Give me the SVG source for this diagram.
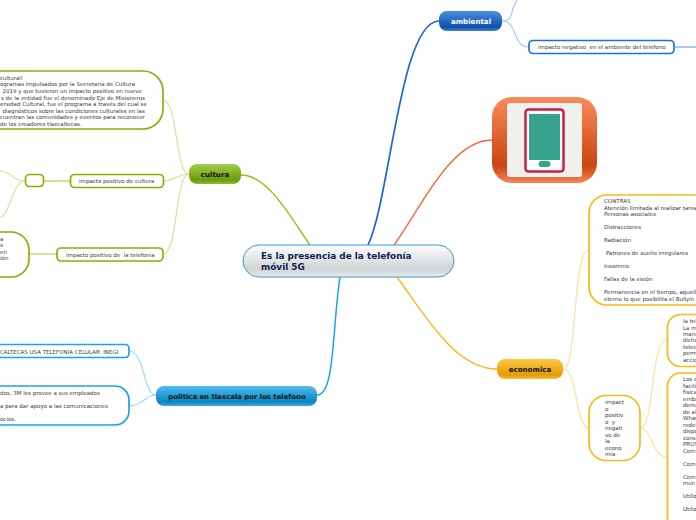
<svg xmlns="http://www.w3.org/2000/svg" width="696" height="520" viewBox="0 0 696 520">
<style>
text{font-family:"DejaVu Sans",sans-serif;font-size:5.5px;fill:#3a3a3a}
.b{fill:#fff;stroke-width:1.7}
.g{stroke:#7fb500}.bl{stroke:#1f6fd8}.c{stroke:#17a5ea}.y{stroke:#fdb813}
.t{font-size:7.1px;font-weight:bold;fill:#111;text-anchor:middle}
.cn{fill:none}
.lg{stroke:#cfe59a;stroke-width:1.2}.lb{stroke:#a9c8f2;stroke-width:1.2}.lc{stroke:#9adcf8;stroke-width:1.2}.ly{stroke:#fde1a0;stroke-width:1.2}
.w{stroke-width:2}
</style>
<defs>
<linearGradient id="gc" x1="0" y1="0" x2="0" y2="1"><stop offset="0" stop-color="#fff"/><stop offset=".75" stop-color="#cfd3d5"/><stop offset="1" stop-color="#e8eaeb"/></linearGradient>
<linearGradient id="gg" x1="0" y1="0" x2="0" y2="1"><stop offset="0" stop-color="#a5cc4c"/><stop offset=".8" stop-color="#6b9a08"/><stop offset="1" stop-color="#93bb30"/></linearGradient>
<linearGradient id="gb" x1="0" y1="0" x2="0" y2="1"><stop offset="0" stop-color="#4a8fe0"/><stop offset=".8" stop-color="#0f50a8"/><stop offset="1" stop-color="#3a7ed0"/></linearGradient>
<linearGradient id="gy" x1="0" y1="0" x2="0" y2="1"><stop offset="0" stop-color="#fdc840"/><stop offset=".8" stop-color="#e39c08"/><stop offset="1" stop-color="#fbc030"/></linearGradient>
<linearGradient id="gt" x1="0" y1="0" x2="0" y2="1"><stop offset="0" stop-color="#4fbdee"/><stop offset=".8" stop-color="#0a84c0"/><stop offset="1" stop-color="#36ace6"/></linearGradient>
<linearGradient id="go" x1="0" y1="0" x2="0" y2="1"><stop offset="0" stop-color="#f98a5c"/><stop offset=".8" stop-color="#cb4510"/><stop offset="1" stop-color="#f6855a"/></linearGradient>
</defs>
<g id="connectors" class="cn">
<path d="M310 245C295 225 270 175 241 175" stroke="#8fbf10" stroke-width="1.400"/>
<path d="M368 245C390 200 400 21 439 21" stroke="#1d66d6" stroke-width="1.700"/>
<path d="M394 245C420 210 450 140 492 140" stroke="#f26a35" stroke-width="1.400"/>
<path d="M397 277C425 315 455 369 497 369" stroke="#fdb813" stroke-width="1.400"/>
<path d="M340 277C332 330 335 395 317 395" stroke="#17a5ea" stroke-width="1.500"/>
<path class="lg" d="M189 174C175 174 178 100 163 100"/>
<path class="lg" d="M189 174C178 174 175 181 163 181"/>
<path class="lg" d="M189 174C175 174 178 254 163 254"/>
<path class="lg w" d="M70 181H43"/>
<path class="lg" d="M25 181C12 181 12 171 0 171"/>
<path class="lg" d="M25 181C12 181 10 217 0 217"/>
<path class="lg w" d="M57 254H29"/>
<path class="lb" d="M502 21C515 21 510 8 517 0"/>
<path class="lb" d="M502 21C518 21 512 47 529 47"/>
<path class="lb w" d="M674 47H696"/>
<path class="lc" d="M156 395C143 395 145 351 129 351"/>
<path class="lc" d="M156 395C145 395 143 406 129 406"/>
<path class="ly" d="M563 369C578 369 572 250 589 250"/>
<path class="ly" d="M563 369C578 369 575 428 589 428"/>
<path class="ly" d="M640 428C655 428 650 340 667 340"/>
<path class="ly" d="M640 428C652 428 652 457 667 457"/>
</g>
<g id="central"><rect x="243" y="245" width="211" height="32" rx="16" fill="url(#gc)" stroke="#3a96d8" stroke-width="1"/>
<text x="261" y="259" style="font-size:8.900px;font-weight:bold;fill:#0f2150">Es la presencia de la telefonía</text><text x="261" y="270" style="font-size:8.900px;font-weight:bold;fill:#0f2150">móvil 5G</text></g>
<g id="cultura"><rect x="189" y="164" width="52" height="20" rx="8" fill="url(#gg)"/><text class="t" x="215" y="177">cultura</text></g>
<g id="ambiental"><rect x="439" y="11" width="63" height="20" rx="8" fill="url(#gb)"/><text class="t" x="471" y="24" style="fill:#fff">ambiental</text></g>
<g id="economica"><rect x="497" y="359" width="66" height="20" rx="8" fill="url(#gy)"/><text class="t" x="530" y="372">economica</text></g>
<g id="politica"><rect x="156" y="386" width="161" height="20" rx="8" fill="url(#gt)"/><text class="t" x="237" y="399" style="font-size:6.900px">politica en tlaxcala por los telefono</text></g>
<g id="n-cultural"><rect class="b g" x="-60" y="71" width="223" height="58" rx="20"/>
<text x="0" y="80">cultural!</text>
<text x="0" y="86">ogramas impulsados por la Secretaría de Cultura</text>
<text x="2.500" y="92.500">2019 y que tuvieron un impacto positivo en nueve</text>
<text x="1" y="99.500">s de la entidad fue el denominado Eje de Misioneros</text>
<text x="0" y="106">ersidad Cultural, fue el programa a través del cual se</text>
<text x="2.500" y="112.500">diagnósticos sobre las condiciones culturales en las</text>
<text x="0" y="119">cuentran las comunidades y eventos para reconocer</text>
<text x="0" y="125.500">de los creadores tlaxcaltecas.</text></g>
<g id="n-positivo-cultura"><rect class="b g" x="70.500" y="174.500" width="93" height="13" rx="4"/><text x="79" y="183">impacto positivo de cultura</text></g>
<g id="n-vacio"><rect class="b g" x="25.500" y="174.500" width="18" height="12" rx="4"/></g>
<g id="n-positivo-telefonia"><rect class="b g" x="57" y="248" width="106" height="13" rx="4"/><text x="66" y="257">impacto positivo de&#160; la telefonia</text></g>
<g id="n-telefonia"><rect class="b g" x="-60" y="232" width="89" height="45" rx="18"/><text x="0" y="241">a</text><text x="0" y="247">s</text><text x="0" y="254">en</text><text x="0" y="260">ión</text></g>
<g id="n-inegi"><rect class="b c" x="-60" y="344.500" width="189" height="13" rx="4"/><text x="0" y="354">CALTECAS USA TELEFONÍA CELULAR: INEGI</text></g>
<g id="n-3m"><rect class="b c" x="-60" y="386" width="189" height="39" rx="14"/><text x="0" y="395">dos, 3M les provee a sus empleados</text><text x="0" y="408">a para dar apoyo a las comunicaciones</text><text x="0" y="421">ocios.</text></g>
<g id="n-negativo"><rect class="b bl" x="529" y="40.500" width="145" height="13" rx="4"/><text x="538" y="49">impacto negativo&#160; en el ambiente del telefono</text></g>
<g id="imagen"><rect x="492" y="97" width="105" height="86" rx="20" fill="url(#go)"/><rect x="507" y="103" width="75" height="74" rx="3" fill="#f0f0ec"/><rect x="525.500" y="109.500" width="38" height="62" rx="3" fill="#fff" stroke="#c81e48" stroke-width="2.500"/><rect x="529" y="114" width="31" height="46" fill="#36a48f"/><rect x="538.500" y="161" width="12" height="6" rx="3" fill="#36a48f"/></g>
<g id="n-contras"><rect class="b y" x="589" y="195" width="130" height="110" rx="18"/>
<text x="604" y="203">CONTRAS</text><text x="604" y="210">Atención limitada al realizar tarea</text><text x="604" y="216">Personas asociales</text><text x="604" y="229">Distracciones</text><text x="604" y="242">Radiación</text><text x="606" y="255">Patrones de sueño irregulares</text><text x="604" y="268">Insomnio</text><text x="604" y="281">Fallas de la visión</text><text x="604" y="294">Permanencia en el tiempo, aquell</text><text x="604" y="301">eterno lo que posibilita el Bullyin</text></g>
<g id="n-impacto"><rect class="b y" x="589" y="395.500" width="51" height="65" rx="17"/>
<text x="605" y="404">impact</text><text x="605" y="411">o</text><text x="605" y="417">positiv</text><text x="605" y="424">o&#160; y</text><text x="605" y="430">negati</text><text x="605" y="437">vo de</text><text x="605" y="443">la</text><text x="605" y="450">econo</text><text x="605" y="456">mía</text></g>
<g id="n-la-tele"><rect class="b y" x="667.500" y="314.500" width="60" height="52" rx="13"/>
<text x="683" y="323">la tel</text><text x="683" y="329.500">La m</text><text x="683" y="336">mane</text><text x="683" y="342">dicho</text><text x="683" y="349">telec</text><text x="683" y="355">perm</text><text x="683" y="362">accio</text></g>
<g id="n-los"><rect class="b y" x="667.500" y="373" width="60" height="170" rx="13"/>
<text x="683" y="381">Los c</text><text x="683" y="388">facili</text><text x="683" y="394">física</text><text x="683" y="401">emba</text><text x="683" y="407">dema</text><text x="683" y="414">de al</text><text x="683" y="420">What</text><text x="683" y="427">redes</text><text x="683" y="433">dispo</text><text x="683" y="440">cons</text><text x="683" y="446">PROS</text><text x="683" y="453">Com</text><text x="683" y="466">Com</text><text x="683" y="479">Com</text><text x="683" y="485">mun</text><text x="683" y="498">Utiliz</text><text x="683" y="511">Utiliz</text></g>
</svg>
